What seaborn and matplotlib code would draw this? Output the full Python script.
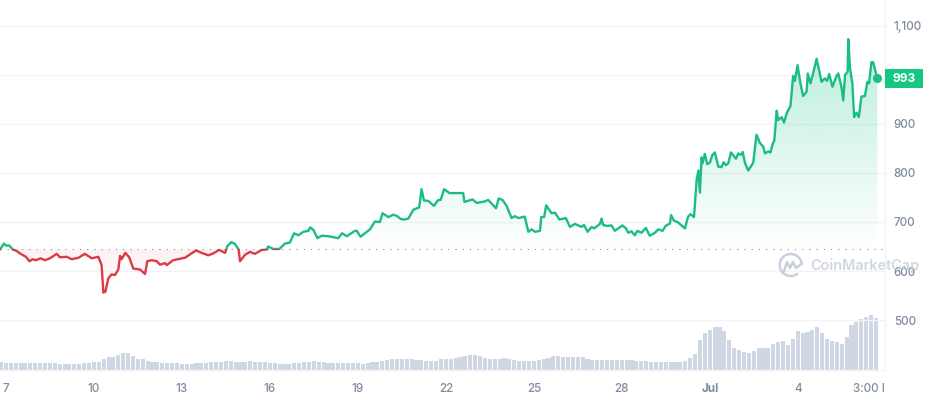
import numpy as np
import pandas as pd
import matplotlib
matplotlib.use("Agg")
import matplotlib.pyplot as plt
import seaborn as sns
from matplotlib.patches import Arc, Rectangle
from matplotlib.lines import Line2D
from matplotlib.transforms import Bbox, IdentityTransform

# price: days since the 7th of the first month, and price
days = [-0.20,-0.07,0.00,0.11,0.23,0.36,0.50,0.59,0.68,0.80,0.91,1.02,1.18,1.33,1.50,1.73,1.84,2.07,2.24,2.47,
        2.69,2.92,3.15,3.26,3.32,3.39,3.49,3.60,3.72,3.83,3.89,3.94,4.07,4.20,4.34,4.57,4.74,4.82,4.97,5.14,
        5.25,5.42,5.48,5.70,6.10,6.48,6.67,6.90,7.07,7.27,7.47,7.55,7.69,7.81,7.93,7.98,8.15,8.32,8.49,8.72,
        8.89,8.94,9.11,9.32,9.51,9.68,9.82,9.97,10.14,10.31,10.37,10.48,10.62,10.76,10.99,11.33,11.46,11.62,11.90,11.96,
        12.09,12.24,12.41,12.58,12.75,12.84,13.04,13.21,13.34,13.46,13.57,13.72,13.89,14.09,14.17,14.25,14.40,14.59,14.74,14.82,
        14.94,15.12,15.59,15.63,15.91,16.05,16.33,16.44,16.71,16.80,16.93,17.07,17.24,17.35,17.47,17.69,17.81,17.92,18.04,18.21,
        18.25,18.35,18.42,18.60,18.72,18.87,19.09,19.23,19.40,19.63,19.71,19.83,19.97,20.06,20.25,20.31,20.36,20.50,20.65,20.76,
        20.88,21.02,21.14,21.22,21.33,21.44,21.53,21.67,21.82,21.95,22.13,22.24,22.39,22.49,22.64,22.68,22.77,22.92,23.15,23.26,
        23.34,23.46,23.55,23.61,23.66,23.72,23.75,23.83,23.91,24.00,24.08,24.17,24.29,24.40,24.47,24.55,24.63,24.72,24.89,24.97,
        25.06,25.12,25.20,25.31,25.48,25.59,25.71,25.82,25.88,25.99,26.07,26.14,26.20,26.28,26.33,26.45,26.53,26.62,26.75,26.84,
        26.90,26.99,27.09,27.18,27.30,27.34,27.43,27.53,27.64,27.81,27.92,28.00,28.07,28.18,28.32,28.38,28.49,28.55,28.61,28.70,
        28.72,28.78,28.86,28.92,29.00,29.08,29.17,29.29,29.37,29.43,29.51,29.57,29.71]
prices = [644,656,652,652,644,641,635,632,629,620,624,622,626,622,626,635,628,629,624,627,
          635,626,629,612,556,558,585,593,592,603,631,624,637,628,605,603,594,620,622,620,
          613,616,612,622,627,642,637,632,636,643,637,651,659,655,644,620,633,639,635,643,
          644,650,645,645,656,658,677,673,680,682,689,684,667,672,671,667,677,671,682,682,
          670,677,685,701,700,718,710,715,712,706,705,707,725,730,767,744,743,733,745,745,
          767,759,759,741,746,739,742,745,728,748,745,733,708,712,708,711,680,685,680,682,
          710,710,734,718,719,705,708,690,696,690,694,680,690,687,696,707,694,692,693,682,
          687,693,687,678,681,673,682,678,688,672,678,685,682,692,697,714,703,699,687,711,
          716,710,786,805,760,832,820,839,818,821,836,842,813,812,822,816,820,842,829,840,
          837,843,820,805,821,878,861,854,840,844,842,859,867,927,908,914,903,922,937,998,
          988,1020,983,957,966,1003,983,1005,1033,986,993,988,1002,976,998,1003,975,948,1000,1007,
          1073,1014,983,914,923,914,956,957,986,983,1026,1026,993]
ref_price = 644
last_price = 993

# volume, one bar every 4 hours
volume = [8,7,7,7,7,7.5,7.5,7,7,7,7,7,6.5,6.5,6.5,6.5,6.5,7,7.5,8,
          8,11.5,13,13.5,15,17,17,14.5,11.5,11,9,8,8,7.5,7.5,7,7,6.5,6.5,6.5,
          7,7,7.5,8,8,8.5,9,9,8.5,8,8.5,9,8.5,8,8,7.5,7,6.5,6,6,
          7.5,7.5,8,8,9,8.5,8,7.5,7.5,7,7,7.5,7.5,7,6.5,7.5,8,8,9,10.5,
          11,11,11,11,11,10,10,9,9,9,11,11,11.5,12,13,14.5,15,15,14,12,
          11.5,11.5,11.5,12.5,11,10,9.5,9,9,9,10,11,12,14,14,13.5,13,13,13,13,
          11,10.5,10,10,10.5,10.5,10,10,10,10,9.5,9,9,8.5,8,8,8,8,8,8.5,
          9,12,16,30,37,40,43,43,39,30,22,20,18,17,19,22,22,22,26,28,
          29,25,31,39,37,38,40,43,37,31,29,28,26,33,45,48,51,53,55,52]
vol_days = [round(-0.17 + i / 6, 3) for i in range(len(volume))]

x_ticks = [0, 3, 6, 9, 12, 15, 18, 21, 24, 27, 29.68]
x_labels = ["7", "10", "13", "16", "19", "22", "25", "28", "Jul", "4", "3:00 PM"]
y_ticks = [500, 600, 700, 800, 900, 1000, 1100]
y_labels = ["500", "600", "700", "800", "900", "", "1,100"]

GREEN = "#16c784"
LINE_GREEN = "#1cbd82"
RED = "#dd3a47"
GREY = "#808a9d"
GRID = "#f1f3f6"

sns.set_theme(style="white")
plt.rcParams["font.family"] = ["Inter", "DejaVu Sans"]

W, H = 929, 396
fig = plt.figure(figsize=(W / 100, H / 100), dpi=100)
rect = [0, 1 - 370 / H, 885.5 / W, 370 / H]
xlim = (-0.2046, 29.99)
ylim = (398, 1153)

# volume goes in its own axes behind the price
ax_vol = fig.add_axes(rect, zorder=1)
df_vol = pd.DataFrame({"dia": vol_days, "volumen": volume})
sns.barplot(data=df_vol, x="dia", y="volumen", native_scale=True, color="#cfd6e4",
            saturation=1, ax=ax_vol)
# bars almost touching, barplot leaves them too thin here
for p in ax_vol.patches:
    centro = p.get_x() + p.get_width() / 2
    p.set_width(0.14)
    p.set_x(centro - 0.07)
    p.set_linewidth(0)
ax_vol.set_xlim(xlim)
ax_vol.set_ylim(0, 370)
ax_vol.axis("off")

ax = fig.add_axes(rect, zorder=2)
ax.patch.set_alpha(0)
ax.set_xlim(xlim)
ax.set_ylim(ylim)

for y in y_ticks:
    ax.axhline(y, color=GRID, lw=1, zorder=0)


def gradiente(color, top, bottom, alpha_top, alpha_bottom, lower, upper):
    # vertical gradient clipped to the area between the line and the reference
    rgba = np.zeros((256, 1, 4))
    rgba[..., :3] = matplotlib.colors.to_rgb(color)
    rgba[..., 3] = np.linspace(alpha_top, alpha_bottom, 256)[:, None]
    poly = ax.fill_between(days, lower, upper, lw=0)
    path = poly.get_paths()[0]
    poly.remove()
    im = ax.imshow(rgba, extent=[xlim[0], xlim[1], bottom, top], aspect="auto", zorder=1)
    im.set_clip_path(path, ax.transData)


gradiente(GREEN, 1075, ref_price, 0.30, 0.0, ref_price, np.maximum(prices, ref_price))
gradiente(RED, ref_price, 556, 0.07, 0.0, np.minimum(prices, ref_price), ref_price)
ax.set_xlim(xlim)
ax.set_ylim(ylim)

df = pd.DataFrame({"dia": days, "precio": prices})
# same line twice, clipped above and below the reference price
sns.lineplot(data=df, x="dia", y="precio", color=LINE_GREEN, lw=1.7, estimator=None, sort=False, ax=ax, zorder=3)
ax.lines[-1].set_clip_path(Rectangle((xlim[0], ref_price), xlim[1] - xlim[0], ylim[1] - ref_price, transform=ax.transData))
sns.lineplot(data=df, x="dia", y="precio", color=RED, lw=1.7, estimator=None, sort=False, ax=ax, zorder=3)
ax.lines[-1].set_clip_path(Rectangle((xlim[0], ylim[0]), xlim[1] - xlim[0], ref_price - ylim[0], transform=ax.transData))

ax.axhline(ref_price, color=GREY, lw=0.8, ls=(0, (1, 5.5)), zorder=2)
ax.plot(days[-1], last_price, "o", color=LINE_GREEN, ms=6.5, mew=0, zorder=4, clip_on=False)

ax.set_xlabel("")
ax.set_ylabel("")
ax.set_xticks(x_ticks)
ax.set_xticklabels(x_labels, fontsize=8.4, color=GREY, fontweight="medium")
ax.set_yticks(y_ticks)
ax.set_yticklabels(y_labels, fontsize=8.4, color=GREY, fontweight="medium")
ax.yaxis.tick_right()
ax.tick_params(axis="x", length=2.5, width=0.8, color=GRID, pad=6.5)
ax.tick_params(axis="y", length=0, pad=6)
for lab in ax.get_xticklabels():
    if lab.get_text() == "Jul":
        lab.set_fontweight("bold")
    # last label is cut by the price axis
    lab.set_clip_box(Bbox([[0, 0], [884, H]]))
    lab.set_clip_on(True)

for s in ["top", "left"]:
    ax.spines[s].set_visible(False)
for s in ["right", "bottom"]:
    ax.spines[s].set_color(GRID)
    ax.spines[s].set_linewidth(1)

# badge with last price
fig.add_artist(Rectangle((885, H - 88), 38, 19, transform=IdentityTransform(), color=GREEN, lw=0, zorder=5))
fig.text(904 / W, 1 - 78.5 / H, str(last_price), ha="center", va="center",
         color="white", fontsize=8.6, fontweight="bold", zorder=6)

# watermark
LOGO = "#c8d0dc"
fig.add_artist(Arc((790.7, H - 265), 22, 22, theta1=0, theta2=310, transform=IdentityTransform(),
                   color=LOGO, lw=1.8, zorder=7))
fig.add_artist(Line2D([784, 787, 790, 793, 796, 801], [H - y for y in [271, 262, 268, 262, 268, 264]],
                      transform=IdentityTransform(), color=LOGO, lw=1.8, zorder=7))
fig.text(810 / W, 1 - 266 / H, "CoinMarketCap", ha="left", va="center", fontsize=10.4, fontweight="semibold",
         color=LOGO, alpha=0.85, zorder=7)

fig.savefig("out.png", dpi=100)
